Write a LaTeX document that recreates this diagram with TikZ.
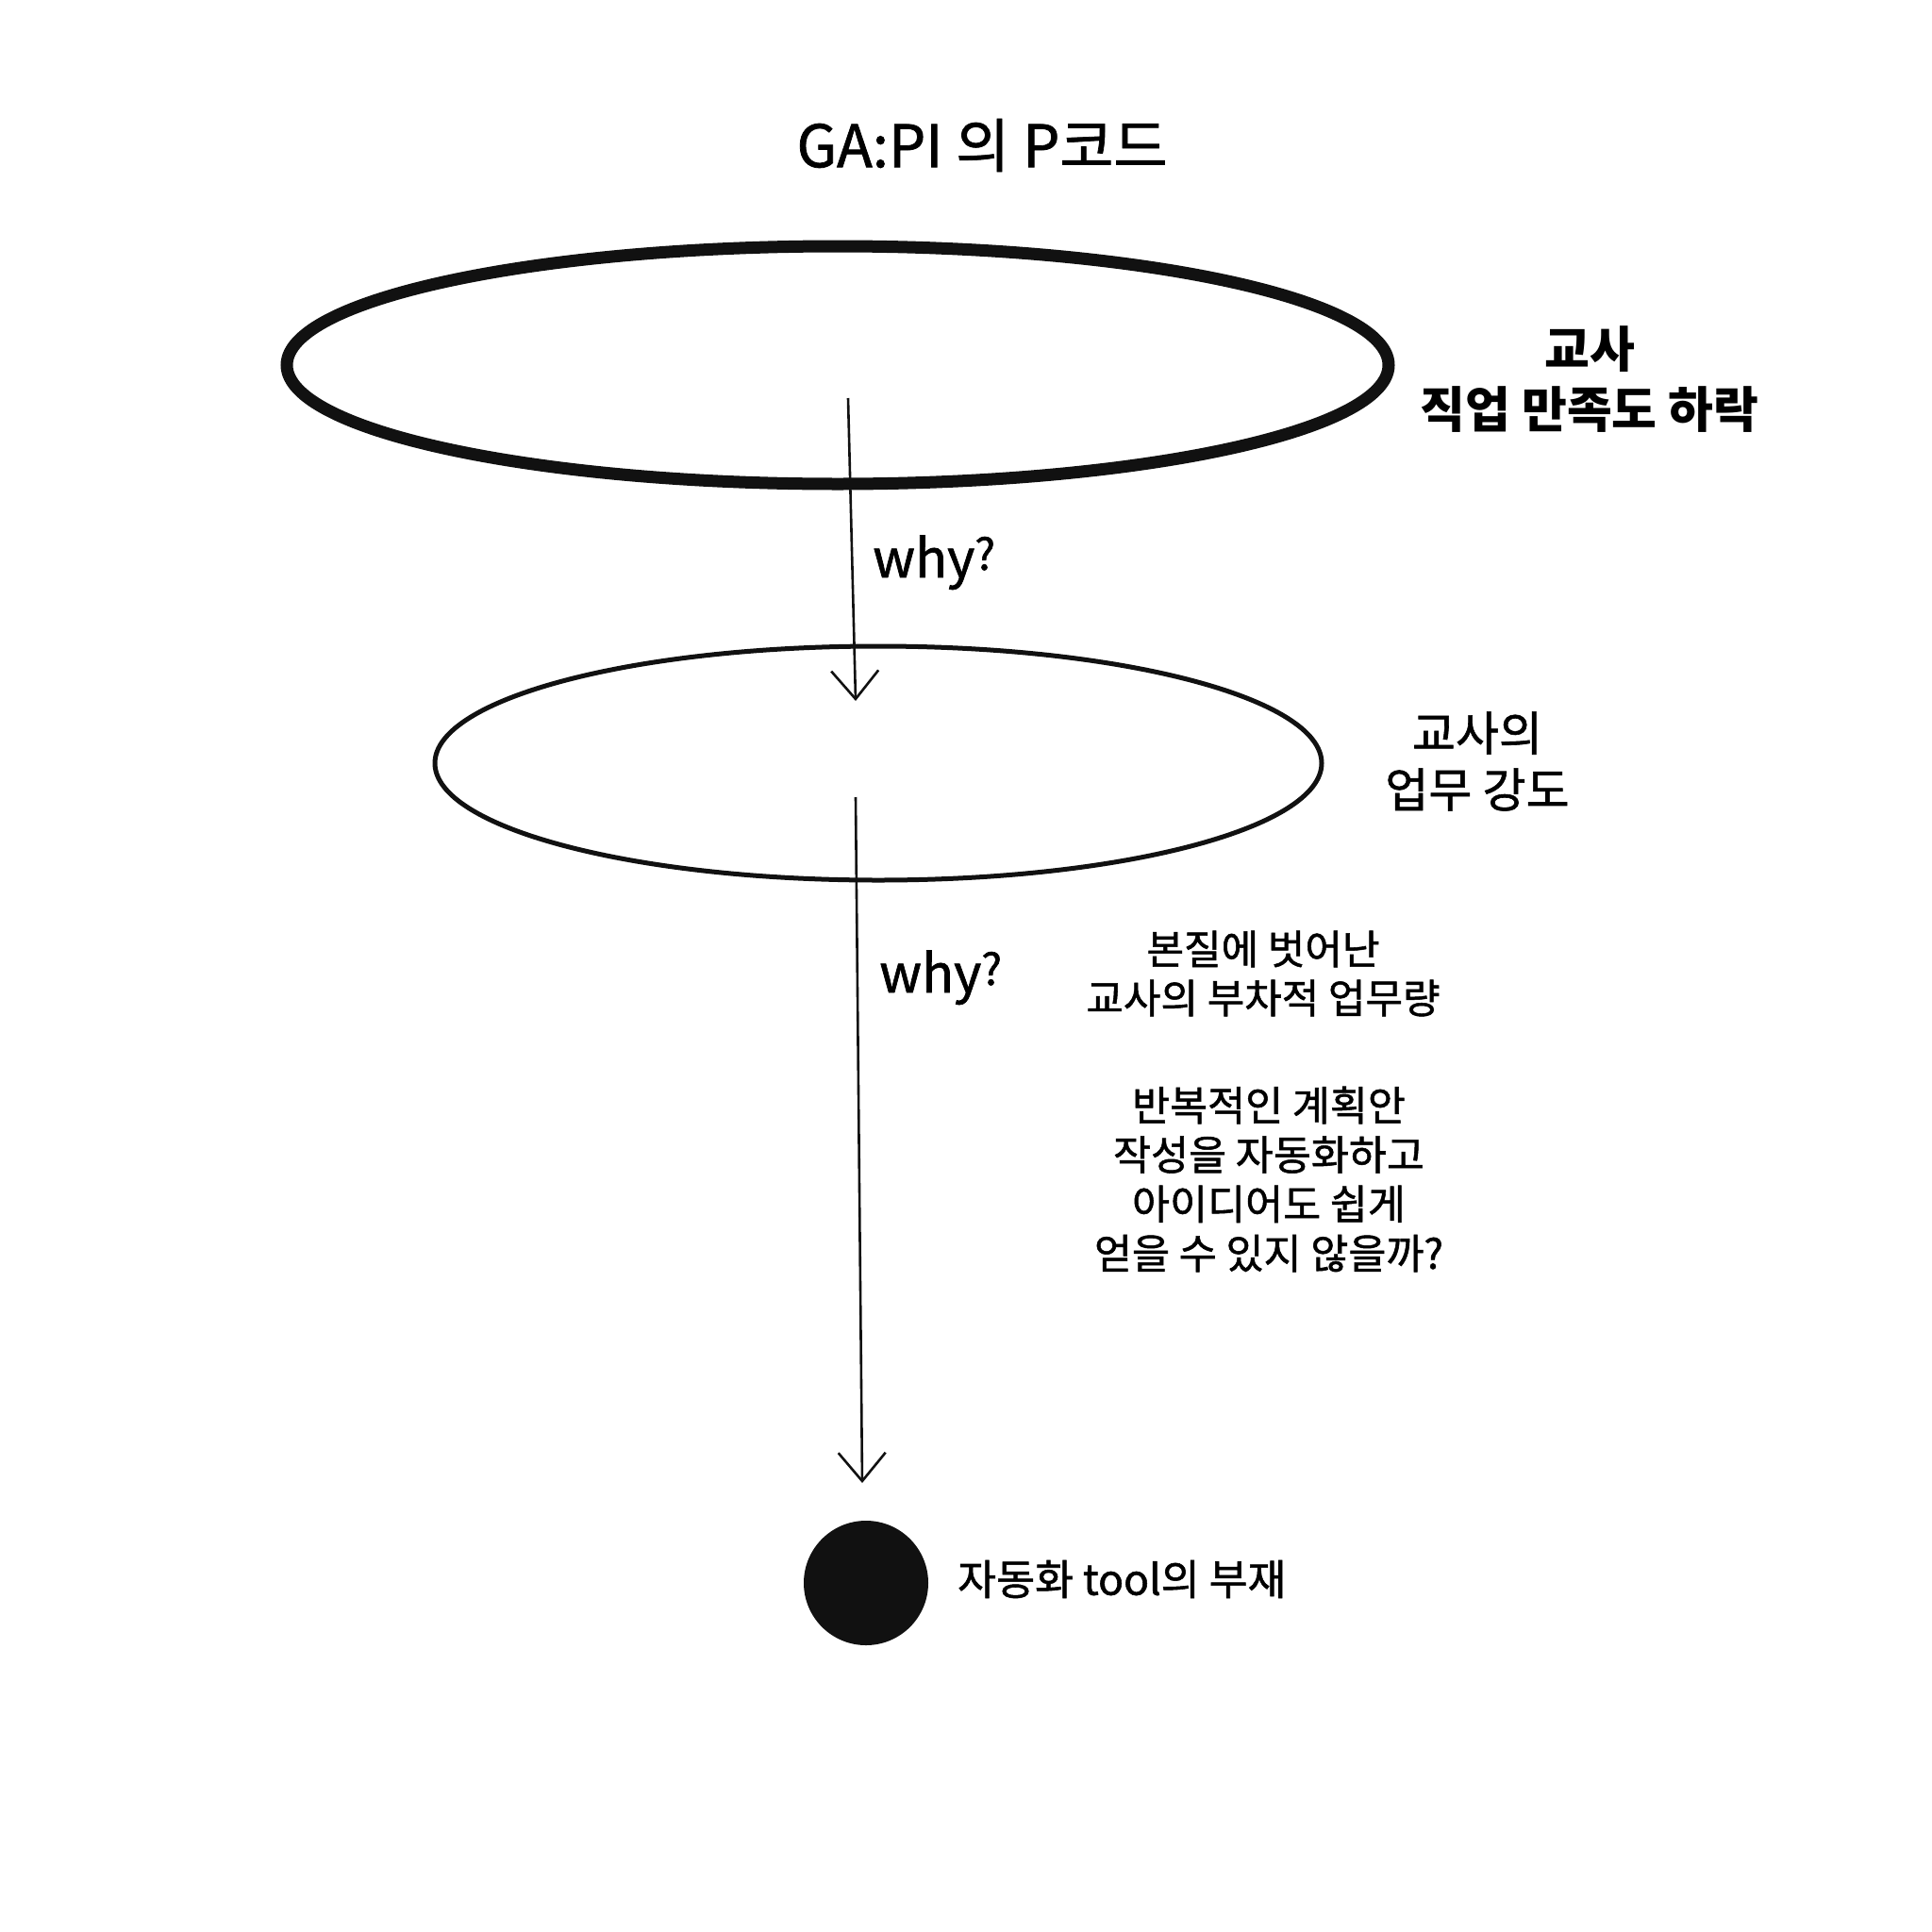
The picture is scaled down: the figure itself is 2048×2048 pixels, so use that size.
\documentclass[tikz,border=0pt]{standalone}
\usepackage{fontspec}
\setmainfont{Noto Sans CJK KR}
\newfontfamily\medfont{Noto Sans CJK KR}[FakeBold=1.2]
\usetikzlibrary{arrows.meta,shapes.geometric}
\definecolor{ink}{HTML}{111111}
\begin{document}
\begin{tikzpicture}[x=1pt,y=-1pt,
  ring/.style={ellipse, draw=ink, inner sep=0pt, outer sep=0pt},
  arr/.style={draw=ink, line width=2.6pt, -{Straight Barb[length=30pt,width=50pt]}},
  hand/.style={font=\medfont\fontsize{56}{56}\selectfont, inner sep=0pt, text=black},
  lbl/.style={align=center, inner sep=0pt, text=black}]
\useasboundingbox[fill=white] (0,0) rectangle (2048,2048);
\node[lbl, font=\medfont\fontsize{62}{62}\selectfont] (title) at (1041,154) {GA:PI 의 P코드};
\node[ring, line width=13pt, minimum width=1168pt, minimum height=252pt] (top) at (888,387) {};
\node[lbl, font=\fontsize{52}{64}\selectfont\bfseries] (toplbl) at (1685,402) {교사\\직업 만족도 하락};
\node[ring, line width=5pt, minimum width=940pt, minimum height=248pt] (mid) at (931,809) {};
\node[lbl, font=\medfont\fontsize{50}{60}\selectfont] (midlbl) at (1566,807) {교사의\\업무 강도};
\node[lbl, font=\medfont\fontsize{43}{52}\selectfont] (cause) at (1339,1032) {본질에 벗어난\\교사의 부차적 업무량};
\node[lbl, font=\medfont\fontsize{43.5}{52.3}\selectfont] (idea) at (1345,1250) {반복적인 계획안\\작성을 자동화하고\\아이디어도 쉽게\\얻을 수 있지 않을까?};
\node[circle, fill=ink, minimum size=132pt, inner sep=0pt] (root) at (918,1678) {};
\node[lbl, anchor=west, font=\medfont\fontsize{44.5}{44.5}\selectfont] (rootlbl) at (1015,1674) {자동화 tool의 부재};
\coordinate (a1s) at (899,422);
\coordinate (a1e) at (907,743);
\coordinate (a2s) at (907,845);
\coordinate (a2e) at (914,1572);
\draw[arr] (a1s) -- (a1e);
\draw[arr] (a2s) -- (a2e);
\node[hand, anchor=base west] (why1) at (925,612) {why\raisebox{8pt}{\fontsize{46}{46}\selectfont ?}};
\node[hand, anchor=base west] (why2) at (932,1052) {why\raisebox{8pt}{\fontsize{46}{46}\selectfont ?}};
\end{tikzpicture}
\end{document}
